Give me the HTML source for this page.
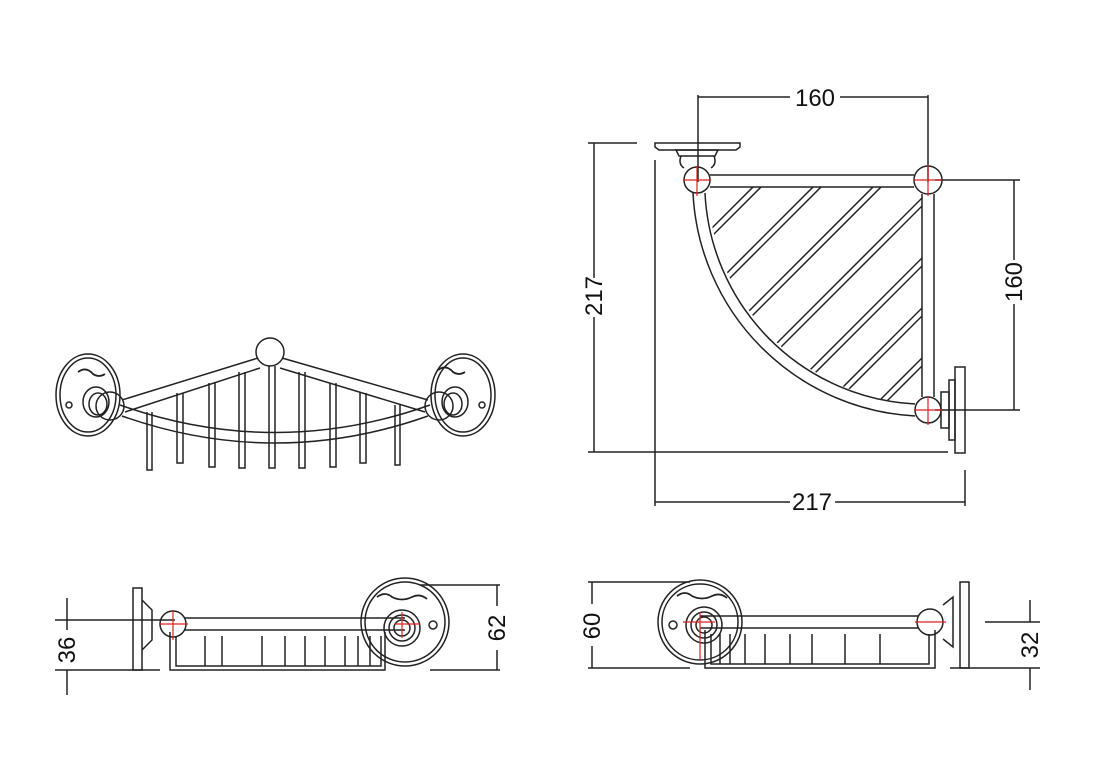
<!DOCTYPE html>
<html><head><meta charset="utf-8"><style>
html,body{margin:0;padding:0;background:#fff;width:1100px;height:776px;overflow:hidden}
svg{display:block}
text{font-family:"Liberation Sans",sans-serif;font-size:24px;fill:#111}
</style></head><body>
<svg width="1100" height="776" viewBox="0 0 1100 776" xmlns="http://www.w3.org/2000/svg">
<defs>
<clipPath id="hc"><path d="M711,187 L922,187 L922,397 L915,404 A224,224 0 0 1 708,195 Z"/></clipPath>
</defs>
<g fill="none" stroke="#222" stroke-width="1.5">
<!-- TOP RIGHT VIEW -->
<line x1="698" y1="95" x2="698" y2="182"/>
<line x1="928" y1="95" x2="928" y2="182"/>
<line x1="698" y1="97" x2="790" y2="97"/><line x1="840" y1="97" x2="928" y2="97"/>
<path d="M655,143 h85 v4 l-4,3 h-77 l-4,-3 z"/>
<path d="M676,150 h42 l-3,6 h-36 z"/>
<path d="M681,156 q-3,8 3,12 M714,156 q3,8 -3,12"/>
<circle cx="697" cy="180" r="13"/>
<circle cx="928" cy="180" r="14"/>
<circle cx="928" cy="410" r="13"/>
<line x1="710" y1="175" x2="914" y2="175"/><line x1="710" y1="187" x2="914" y2="187"/>
<line x1="922" y1="194" x2="922" y2="397"/><line x1="934" y1="194" x2="934" y2="397"/>
<path d="M693,193 A235,235 0 0 0 915,416"/>
<path d="M705,193 A222,222 0 0 0 915,404"/>
<g clip-path="url(#hc)">
<path d="M690,250 L760,180 M693,255 L763,185 M690,310 L830,170 M693,315 L833,175 M700,360 L890,170 M703,365 L893,175 M720,400 L940,180 M723,405 L943,185 M750,430 L940,240 M753,435 L943,245 M780,450 L940,290 M783,455 L943,295 M820,460 L940,340 M823,465 L943,345 M860,470 L940,390 M863,475 L943,395"/>
</g>
<path d="M941,392 h8 v36 h-8 z"/>
<path d="M949,380 h6 v60 h-6 z"/>
<path d="M955,367 h10 v86 h-10 z"/>
<line x1="594" y1="143" x2="594" y2="278"/><line x1="594" y1="317" x2="594" y2="452"/>
<line x1="588" y1="143" x2="637" y2="143"/>
<line x1="588" y1="452" x2="948" y2="452"/>
<line x1="655" y1="160" x2="655" y2="506"/>
<line x1="965" y1="470" x2="965" y2="506"/>
<line x1="655" y1="502" x2="790" y2="502"/><line x1="835" y1="502" x2="965" y2="502"/>
<line x1="935" y1="180" x2="1020" y2="180"/><line x1="935" y1="410" x2="1020" y2="410"/>
<line x1="1014" y1="180" x2="1014" y2="260"/><line x1="1014" y1="304" x2="1014" y2="410"/>

<!-- FRONT VIEW LEFT -->
<ellipse cx="88" cy="395" rx="32" ry="41"/><ellipse cx="88" cy="395" rx="28" ry="37"/>
<ellipse cx="96" cy="402" rx="13" ry="15"/><ellipse cx="98" cy="404" rx="9" ry="11"/>
<circle cx="69" cy="405" r="3"/>
<ellipse cx="463" cy="395" rx="32" ry="41"/><ellipse cx="463" cy="395" rx="28" ry="37"/>
<ellipse cx="455" cy="402" rx="13" ry="15"/><ellipse cx="453" cy="404" rx="9" ry="11"/>
<circle cx="482" cy="405" r="3"/>
<circle cx="110" cy="406" r="14"/><circle cx="439" cy="406" r="14"/>
<circle cx="270" cy="352" r="14"/>
<path d="M122,400 L258,358 M125,412 L260,368 M282,358 L428,400 M280,368 L425,412"/>
<path d="M120,405 Q275,460 430,405 M122,416 Q275,470 428,416"/>
<path d="M147,412 v58 h5 v-58 M177,393 v70 h6 v-70 M209,383 v84 h6 v-84 M239,372 v96 h6 v-96 M269,366 v102 h6 v-102 M299,372 v96 h6 v-96 M330,383 v84 h6 v-84 M360,393 v70 h6 v-70 M395,405 v60 h5 v-60"/>
<path d="M78,372 q8,-6 15,2 q6,4 12,0" stroke-width="1.8"/>
<path d="M438,370 q8,-6 15,2 q6,4 12,0" stroke-width="1.8"/>

<!-- BOTTOM LEFT SIDE VIEW -->
<path d="M133,588 h9 v82 h-9 z"/>
<path d="M142,600 l10,10 v30 l-10,10"/>
<circle cx="173" cy="624" r="13"/>
<line x1="185" y1="618" x2="405" y2="618"/><line x1="185" y1="630" x2="405" y2="630"/>
<circle cx="405" cy="622" r="44"/><circle cx="405" cy="622" r="40"/>
<circle cx="402" cy="628" r="18"/><circle cx="402" cy="628" r="13"/><circle cx="402" cy="628" r="8"/>
<circle cx="433" cy="625" r="4"/>
<path d="M170,632 v38 h215 v-38 M176,636 v30 h205 v-30"/>
<path d="M205,636 v30 M222,636 v30 M262,636 v30 M285,636 v30 M305,636 v30 M325,636 v30 M345,636 v30 M358,636 v30 M370,636 v30"/>
<path d="M377,597 q8,-6 15,0 q10,5 20,0 q8,-4 15,2" stroke-width="1.8"/>
<line x1="55" y1="620" x2="175" y2="620"/>
<line x1="55" y1="670" x2="160" y2="670"/>
<line x1="67" y1="598" x2="67" y2="630"/><line x1="67" y1="670" x2="67" y2="695"/>
<line x1="420" y1="585" x2="500" y2="585"/>
<line x1="430" y1="670" x2="500" y2="670"/>
<line x1="497" y1="585" x2="497" y2="606"/><line x1="497" y1="650" x2="497" y2="670"/>

<!-- BOTTOM RIGHT SIDE VIEW -->
<circle cx="700" cy="622" r="42"/><circle cx="700" cy="622" r="38"/>
<circle cx="704" cy="625" r="18"/><circle cx="704" cy="625" r="13"/><circle cx="704" cy="625" r="8"/>
<circle cx="673" cy="625" r="4"/>
<line x1="700" y1="616" x2="918" y2="616"/><line x1="700" y1="628" x2="918" y2="628"/>
<circle cx="930" cy="622" r="13"/>
<path d="M943,605 l10,-8 v50 l-10,-8"/>
<path d="M960,582 h9 v86 h-9 z"/>
<path d="M705,630 v38 h230 v-38 M711,634 v30 h218 v-30"/>
<path d="M720,634 v30 M730,634 v30 M745,634 v30 M765,634 v30 M790,634 v30 M812,634 v30 M845,634 v30 M880,634 v30"/>
<path d="M677,596 q8,-6 15,0 q10,5 20,0 q8,-4 15,2" stroke-width="1.8"/>
<line x1="588" y1="582" x2="690" y2="582"/>
<line x1="588" y1="668" x2="690" y2="668"/>
<line x1="592" y1="582" x2="592" y2="604"/><line x1="592" y1="646" x2="592" y2="668"/>
<line x1="985" y1="622" x2="1040" y2="622"/>
<line x1="950" y1="668" x2="1040" y2="668"/>
<line x1="1030" y1="600" x2="1030" y2="622"/><line x1="1030" y1="668" x2="1030" y2="690"/>
</g>
<!-- red center marks -->
<g stroke="#d22" stroke-width="1.2">
<line x1="683" y1="180" x2="711" y2="180"/><line x1="697" y1="166" x2="697" y2="196"/>
<line x1="914" y1="180" x2="942" y2="180"/><line x1="928" y1="165" x2="928" y2="196"/>
<line x1="914" y1="410" x2="942" y2="410"/><line x1="928" y1="396" x2="928" y2="425"/>
<line x1="160" y1="624" x2="188" y2="624"/><line x1="173" y1="610" x2="173" y2="640"/>
<line x1="395" y1="624" x2="420" y2="624"/><line x1="402" y1="612" x2="402" y2="638"/>
<line x1="683" y1="622" x2="715" y2="622"/><line x1="700" y1="612" x2="700" y2="660"/>
<line x1="915" y1="622" x2="946" y2="622"/>
</g>
<g>
<text x="815" y="106" text-anchor="middle">160</text>
<text x="812" y="510" text-anchor="middle">217</text>
<text transform="translate(602,296) rotate(-90)" text-anchor="middle">217</text>
<text transform="translate(1022,282) rotate(-90)" text-anchor="middle">160</text>
<text transform="translate(75,650) rotate(-90)" text-anchor="middle">36</text>
<text transform="translate(505,628) rotate(-90)" text-anchor="middle">62</text>
<text transform="translate(600,626) rotate(-90)" text-anchor="middle">60</text>
<text transform="translate(1038,645) rotate(-90)" text-anchor="middle">32</text>
</g>
</svg>
</body></html>
